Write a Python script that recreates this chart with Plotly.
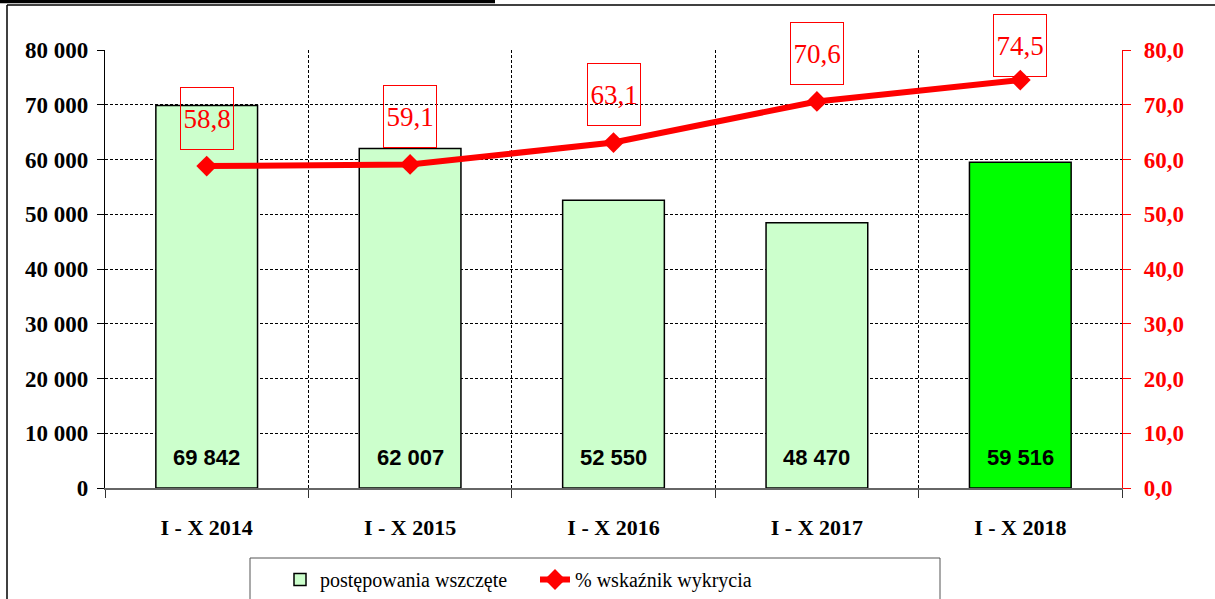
import plotly.graph_objects as go

categories = ["I - X 2014", "I - X 2015", "I - X 2016", "I - X 2017", "I - X 2018"]
cases_started = [69842, 62007, 52550, 48470, 59516]
detection_rate = [58.8, 59.1, 63.1, 70.6, 74.5]
bar_colors = ["#CCFFCC", "#CCFFCC", "#CCFFCC", "#CCFFCC", "#00FF00"]
left_ticks = [0, 10000, 20000, 30000, 40000, 50000, 60000, 70000, 80000]
right_ticks = [0, 10, 20, 30, 40, 50, 60, 70, 80]

SERIF = "Liberation Serif"
SANS = "Liberation Sans"

W, H = 1215, 599
M_L, M_R, M_T, M_B = 105, 93, 50, 111
PLOT_W = W - M_L - M_R
PLOT_H = H - M_T - M_B


def px_x(p):
    return (p - M_L) / PLOT_W


def px_y(p):
    return (M_T + PLOT_H - p) / PLOT_H


fig = go.Figure()
fig.add_trace(go.Bar(
    x=categories, y=cases_started, name="postępowania wszczęte",
    marker=dict(color=bar_colors, line=dict(color="black", width=1.5)),
    width=0.5, yaxis="y",
))
fig.add_trace(go.Scatter(
    x=categories, y=detection_rate, name="% wskaźnik wykrycia",
    mode="lines+markers", yaxis="y2",
    line=dict(color="#FF0000", width=6),
    marker=dict(symbol="diamond", size=16, color="#FF0000"),
))

annotations = []
for c, v in zip(categories, cases_started):
    annotations.append(dict(
        x=c, y=5500, xref="x", yref="y", showarrow=False,
        text=f"{v:,}".replace(",", " "),
        font=dict(family=SANS, size=22, color="black", weight="bold"),
    ))
for c, v in zip(categories, detection_rate):
    # keep the label box inside the chart frame (as the source chart does)
    pix = PLOT_H * (1 - v / 80.0)
    shift = min(48, pix + M_T - 46)
    annotations.append(dict(
        x=c, y=v, xref="x", yref="y2", showarrow=False,
        text=f"{v:.1f}".replace(".", ","), yshift=shift,
        font=dict(family=SERIF, size=27, color="#FF0000"),
        bordercolor="#FF0000", borderwidth=1, borderpad=0,
        width=52, height=61, bgcolor="rgba(0,0,0,0)",
    ))

shapes = [
    # outer chart frame (top and left edges)
    dict(type="line", xref="paper", yref="paper", x0=px_x(7), x1=px_x(1220),
         y0=px_y(5), y1=px_y(5), line=dict(color="black", width=1.5)),
    dict(type="line", xref="paper", yref="paper", x0=px_x(7), x1=px_x(7),
         y0=px_y(5), y1=px_y(605), line=dict(color="black", width=1.5)),
    # underline of the (cut off) heading
    dict(type="line", xref="paper", yref="paper", x0=px_x(-5), x1=px_x(495),
         y0=px_y(1.5), y1=px_y(1.5), line=dict(color="black", width=3.5)),
    # legend frame
    dict(type="rect", xref="paper", yref="paper", x0=px_x(250), x1=px_x(940),
         y0=px_y(558), y1=px_y(610), line=dict(color="#555", width=1),
         fillcolor="white", layer="below"),
]

fig.update_layout(
    width=W, height=H,
    margin=dict(l=M_L, r=M_R, t=M_T, b=M_B, autoexpand=False),
    paper_bgcolor="white", plot_bgcolor="white",
    separators=", ",
    bargap=0.5,
    showlegend=True,
    legend=dict(
        orientation="h", x=px_x(280), xanchor="left", y=px_y(560), yanchor="top",
        borderwidth=0, bgcolor="rgba(0,0,0,0)",
        font=dict(family=SERIF, size=20, color="black"),
        entrywidth=210, traceorder="normal",
    ),
    xaxis=dict(
        type="category", tickson="boundaries",
        showgrid=True, gridcolor="black", gridwidth=1, griddash="3px,2px",
        showline=True, linecolor="#666", linewidth=1.5,
        ticks="outside", ticklen=8, tickcolor="#333",
        ticklabelstandoff=19,
        tickfont=dict(family=SERIF, size=22, color="black", weight="bold"),
        range=[-0.5, 4.5],
    ),
    yaxis=dict(
        range=[0, 80000], tickvals=left_ticks, tickformat=",.0f",
        showgrid=True, gridcolor="black", gridwidth=1, griddash="3px,2px",
        showline=True, linecolor="black", linewidth=1.2,
        ticks="outside", ticklen=7, tickcolor="black",
        ticklabelstandoff=4,
        tickfont=dict(family=SERIF, size=23, color="black", weight="bold"),
        zeroline=False,
    ),
    yaxis2=dict(
        overlaying="y", side="right", range=[0, 80], tickvals=right_ticks,
        tickformat=".1f", showgrid=False,
        showline=True, linecolor="#FF0000", linewidth=1.2,
        ticks="outside", ticklen=8, tickcolor="#FF0000",
        ticklabelstandoff=8,
        tickfont=dict(family=SERIF, size=23, color="#FF0000", weight="bold"),
        zeroline=False,
    ),
    annotations=annotations,
    shapes=shapes,
)

fig.write_html(
    "out.html",
    config={"displayModeBar": False},
    post_script="document.body.style.margin='0';document.body.style.overflow='hidden';",
)
